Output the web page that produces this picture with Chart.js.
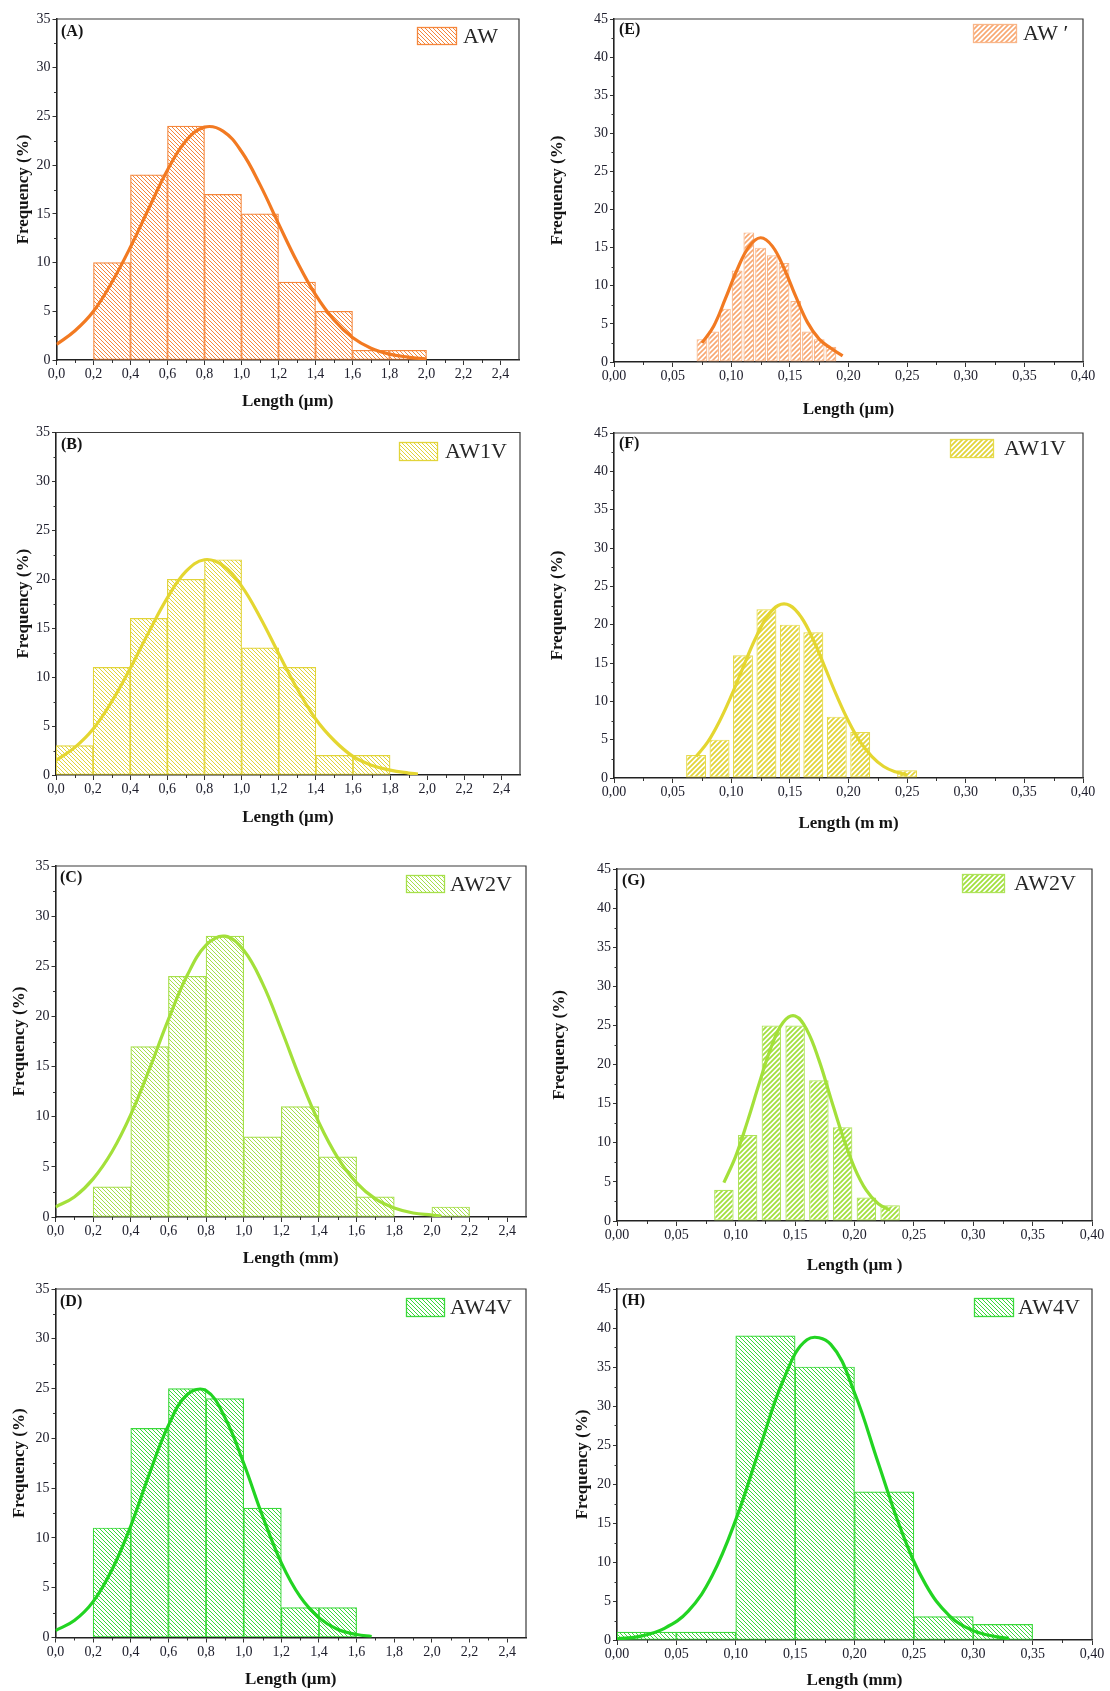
<!DOCTYPE html>
<html>
<head>
<meta charset="utf-8">
<script src="https://cdn.jsdelivr.net/npm/chart.js@4.4.1/dist/chart.umd.min.js"></script>
<style>
  html, body { margin: 0; padding: 0; background: #ffffff; }
  #page { position: relative; width: 1110px; height: 1691px; overflow: hidden; background: #ffffff; }
  #page canvas { position: absolute; }
</style>
</head>
<body>
<div id="page"></div>
<script>
// ---- data (bin centres, frequencies %, fitted curve) ----
const A_CENTERS = [0.3, 0.5, 0.7, 0.9, 1.1, 1.3, 1.5, 1.7, 1.9];
const A_FREQ = [10, 19, 24, 17, 15, 8, 5, 1, 1];
const A_FIT_X = [0, 0.1, 0.2, 0.3, 0.4, 0.5, 0.6, 0.7, 0.8, 0.9, 1.0, 1.1, 1.2, 1.3, 1.4, 1.5, 1.6, 1.7, 1.8, 1.9, 2.0];
const A_FIT_Y = [1.6, 3.0, 5.0, 8.0, 11.6, 15.6, 19.5, 22.5, 23.9, 23.5, 21.4, 18.0, 14.0, 10.1, 6.7, 4.1, 2.3, 1.2, 0.6, 0.3, 0.1];

const B_CENTERS = [0.1, 0.3, 0.5, 0.7, 0.9, 1.1, 1.3, 1.5, 1.7];
const B_FREQ = [3, 11, 16, 20, 22, 13, 11, 2, 2];
const B_FIT_X = [0, 0.1, 0.2, 0.3, 0.4, 0.5, 0.6, 0.7, 0.8, 0.9, 1.0, 1.1, 1.2, 1.3, 1.4, 1.5, 1.6, 1.7, 1.8, 1.9, 1.95];
const B_FIT_Y = [1.5, 2.8, 4.7, 7.5, 10.9, 14.6, 18.1, 20.8, 22.0, 21.4, 19.3, 16.1, 12.4, 8.8, 5.7, 3.5, 1.9, 1.0, 0.5, 0.2, 0.1];

const C_CENTERS = [0.3, 0.5, 0.7, 0.9, 1.1, 1.3, 1.5, 1.7, 1.9, 2.1];
const C_FREQ = [3, 17, 24, 28, 8, 11, 6, 2, null, 1];
const C_FIT_X = [0, 0.1, 0.2, 0.3, 0.4, 0.5, 0.6, 0.7, 0.8, 0.9, 1.0, 1.1, 1.2, 1.3, 1.4, 1.5, 1.6, 1.7, 1.8, 1.9, 2.0, 2.05];
const C_FIT_Y = [1.0, 2.0, 3.8, 6.5, 10.2, 14.8, 19.7, 24.1, 27.1, 28.0, 26.6, 23.3, 18.7, 13.8, 9.4, 5.9, 3.4, 1.8, 0.9, 0.4, 0.2, 0.1];

const D_CENTERS = [0.3, 0.5, 0.7, 0.9, 1.1, 1.3, 1.5];
const D_FREQ = [11, 21, 25, 24, 13, 3, 3];
const D_FIT_X = [0, 0.1, 0.2, 0.3, 0.4, 0.5, 0.6, 0.7, 0.8, 0.9, 1.0, 1.1, 1.2, 1.3, 1.4, 1.5, 1.6, 1.68];
const D_FIT_Y = [0.7, 1.7, 3.6, 6.8, 11.2, 16.5, 21.3, 24.4, 24.8, 22.1, 17.5, 12.2, 7.5, 4.1, 2.0, 0.8, 0.3, 0.1];

const E_CENTERS = [0.075, 0.085, 0.095, 0.105, 0.115, 0.125, 0.135, 0.145, 0.155, 0.165, 0.175, 0.185];
const E_FREQ = [3, 4, 7, 12, 17, 15, 14, 13, 8, 4, 3, 2];
const E_FIT_X = [0.075, 0.085, 0.095, 0.105, 0.115, 0.125, 0.135, 0.145, 0.155, 0.165, 0.175, 0.185, 0.195];
const E_FIT_Y = [2.5, 4.7, 8.3, 12.1, 15.1, 16.3, 15.2, 12.3, 8.6, 5.2, 3.0, 1.8, 0.8];

const F_CENTERS = [0.07, 0.09, 0.11, 0.13, 0.15, 0.17, 0.19, 0.21, 0.23, 0.25];
const F_FREQ = [3, 5, 16, 22, 20, 19, 8, 6, null, 1];
const F_FIT_X = [0.07, 0.08, 0.09, 0.10, 0.11, 0.12, 0.13, 0.14, 0.15, 0.16, 0.17, 0.18, 0.19, 0.20, 0.21, 0.22, 0.23, 0.24, 0.25];
const F_FIT_Y = [2.8, 4.7, 7.4, 10.7, 14.4, 18.0, 20.9, 22.5, 22.5, 20.9, 18.0, 14.4, 10.7, 7.4, 4.7, 2.8, 1.5, 0.8, 0.4];

const G_CENTERS = [0.09, 0.11, 0.13, 0.15, 0.17, 0.19, 0.21, 0.23];
const G_FREQ = [4, 11, 25, 25, 18, 12, 3, 2];
const G_FIT_X = [0.09, 0.10, 0.11, 0.12, 0.13, 0.14, 0.15, 0.16, 0.17, 0.18, 0.19, 0.20, 0.21, 0.22, 0.23];
const G_FIT_Y = [4.9, 8.3, 12.8, 17.7, 22.3, 25.4, 26.2, 24.4, 20.6, 15.7, 10.9, 6.8, 3.9, 2.2, 1.4];

const H_CENTERS = [0.025, 0.075, 0.125, 0.175, 0.225, 0.275, 0.325];
const H_FREQ = [1, 1, 39, 35, 19, 3, 2];
const H_FIT_X = [0, 0.02, 0.04, 0.06, 0.08, 0.10, 0.12, 0.14, 0.16, 0.18, 0.20, 0.22, 0.24, 0.26, 0.28, 0.30, 0.32, 0.33];
const H_FIT_Y = [0.15, 0.5, 1.5, 3.7, 8.2, 15.4, 24.5, 33.3, 38.5, 37.9, 31.7, 22.7, 13.8, 7.1, 3.1, 1.2, 0.4, 0.2];

const SERIES_NAMES = ['AW', 'AW1V', 'AW2V', 'AW4V'];
const UM = 'Length (\u00b5m)';
const MM = 'Length (mm)';

// ---- styling ----
const FONT = "'Liberation Serif', 'Times New Roman', serif";
Chart.defaults.font.family = FONT;
Chart.defaults.color = '#20202e';

const ORANGE = { line: '#f27a22', hatch: '#f5873c', hatchLight: '#f8a872', edgeLight: '#f9b689' };
const YELLOW = { line: '#e4d631', hatch: '#e2d43a', hatchLight: '#e2d43a', edgeLight: '#e6da4c' };
const LIME = { line: '#a3e03a', hatch: '#a6e04a', hatchLight: '#a2df3e', edgeLight: '#aee35a' };
const GREEN = { line: '#22d422', hatch: '#3bd93b', hatchLight: '#3bd93b', edgeLight: '#45dc45' };

function makeHatch(color, dir, gap, width) {
  const tile = document.createElement('canvas');
  tile.width = gap;
  tile.height = gap;
  const g = tile.getContext('2d');
  g.fillStyle = '#ffffff';
  g.fillRect(0, 0, gap, gap);
  g.strokeStyle = color;
  g.lineWidth = width;
  g.beginPath();
  if (dir === 'back') {
    g.moveTo(-1, -1); g.lineTo(gap + 1, gap + 1);
    g.moveTo(-1, gap - 1); g.lineTo(1, gap + 1);
    g.moveTo(gap - 1, -1); g.lineTo(gap + 1, 1);
  } else {
    g.moveTo(-1, gap + 1); g.lineTo(gap + 1, -1);
    g.moveTo(-1, 1); g.lineTo(1, -1);
    g.moveTo(gap - 1, gap + 1); g.lineTo(gap + 1, gap - 1);
  }
  g.stroke();
  return g.createPattern(tile, 'repeat');
}

// geometry of each panel on the page (plot box l,t,r,b; titles; legend box)
const PANELS = [
  { tag: '(A)', name: SERIES_NAMES[0], suffix: '', centers: A_CENTERS, freq: A_FREQ, fitX: A_FIT_X, fitY: A_FIT_Y,
    wide: true, xTitle: UM, col: 0, plot: [56.5, 19, 519, 360], yTitleX: 24, xTitleY: 402,
    letter: [61, 32], legend: [417, 27, 40, 18], legendTextX: 463,
    edge: ORANGE.hatch, hatch: makeHatch(ORANGE.hatch, 'back', 4, 1), line: ORANGE.line, barPct: 1 },
  { tag: '(B)', name: SERIES_NAMES[1], suffix: '', centers: B_CENTERS, freq: B_FREQ, fitX: B_FIT_X, fitY: B_FIT_Y,
    wide: true, xTitle: UM, col: 0, plot: [56, 432.5, 520, 775], yTitleX: 24, xTitleY: 818,
    letter: [61, 445], legend: [399, 442, 39, 19], legendTextX: 445,
    edge: YELLOW.hatch, hatch: makeHatch(YELLOW.hatch, 'back', 4, 1), line: YELLOW.line, barPct: 1 },
  { tag: '(C)', name: SERIES_NAMES[2], suffix: '', centers: C_CENTERS, freq: C_FREQ, fitX: C_FIT_X, fitY: C_FIT_Y,
    wide: true, xTitle: MM, col: 0, plot: [55.5, 866, 526, 1217], yTitleX: 20, xTitleY: 1259,
    letter: [60, 878], legend: [406, 875, 39, 18], legendTextX: 450,
    edge: LIME.hatch, hatch: makeHatch(LIME.hatch, 'back', 4, 1), line: LIME.line, barPct: 1 },
  { tag: '(D)', name: SERIES_NAMES[3], suffix: '', centers: D_CENTERS, freq: D_FREQ, fitX: D_FIT_X, fitY: D_FIT_Y,
    wide: true, xTitle: UM, col: 0, plot: [55.5, 1289, 526, 1637.5], yTitleX: 20, xTitleY: 1680,
    letter: [60, 1302], legend: [406, 1298, 39, 19], legendTextX: 450,
    edge: GREEN.hatch, hatch: makeHatch(GREEN.hatch, 'back', 4, 1), line: GREEN.line, barPct: 1 },
  { tag: '(E)', name: SERIES_NAMES[0], suffix: ' \u2032', centers: E_CENTERS, freq: E_FREQ, fitX: E_FIT_X, fitY: E_FIT_Y,
    wide: false, xTitle: UM, col: 1, plot: [614, 19, 1083, 362], yTitleX: 558, xTitleY: 410,
    letter: [619, 30], legend: [973, 24, 44, 19], legendTextX: 1023,
    edge: ORANGE.edgeLight, hatch: makeHatch(ORANGE.hatchLight, 'fwd', 5, 1.6), line: ORANGE.line, barPct: 0.92 },
  { tag: '(F)', name: SERIES_NAMES[1], suffix: '', centers: F_CENTERS, freq: F_FREQ, fitX: F_FIT_X, fitY: F_FIT_Y,
    wide: false, xTitle: 'Length (m m)', col: 1, plot: [614, 433, 1083, 778], yTitleX: 558, xTitleY: 824,
    letter: [619, 444], legend: [950, 439, 44, 19], legendTextX: 1004,
    edge: YELLOW.edgeLight, hatch: makeHatch(YELLOW.hatchLight, 'fwd', 5, 1.8), line: YELLOW.line, barPct: 0.85 },
  { tag: '(G)', name: SERIES_NAMES[2], suffix: '', centers: G_CENTERS, freq: G_FREQ, fitX: G_FIT_X, fitY: G_FIT_Y,
    wide: false, xTitle: 'Length (\u00b5m )', col: 1, plot: [617, 869, 1092, 1221], yTitleX: 560, xTitleY: 1266,
    letter: [622, 881], legend: [962, 874, 43, 19], legendTextX: 1014,
    edge: LIME.edgeLight, hatch: makeHatch(LIME.hatchLight, 'fwd', 5, 1.8), line: LIME.line, barPct: 0.82 },
  { tag: '(H)', name: SERIES_NAMES[3], suffix: '', centers: H_CENTERS, freq: H_FREQ, fitX: H_FIT_X, fitY: H_FIT_Y,
    wide: false, xTitle: MM, col: 1, plot: [617, 1289, 1092, 1640], yTitleX: 583, xTitleY: 1681,
    letter: [622, 1301], legend: [974, 1298, 40, 19], legendTextX: 1018,
    edge: GREEN.hatch, hatch: makeHatch(GREEN.hatch, 'back', 4, 1), line: GREEN.line, barPct: 1 },
];

const COLUMNS = [[0, 545], [540, 1110]];
const TITLE_SIZE = 17;
const TITLE_LH = TITLE_SIZE * 1.2;

// minor ticks, top/right frame, panel letter and legend
const decorations = {
  id: 'decorations',
  afterDraw(chart, args, opts) {
    const { ctx, chartArea: a, scales: { x, y } } = chart;
    const p = opts.panel;
    const ox = opts.origin[0];
    const oy = opts.origin[1];
    ctx.save();
    ctx.strokeStyle = '#333333';
    ctx.lineWidth = 1;
    ctx.beginPath();
    const xMinor = p.wide ? 0.1 : 0.025;
    const xStep = p.wide ? 0.2 : 0.05;
    for (let v = xMinor; v < x.max - 1e-6; v += xStep) {
      const px = Math.round(x.getPixelForValue(v)) + 0.5;
      ctx.moveTo(px, a.bottom);
      ctx.lineTo(px, a.bottom + 3);
    }
    for (let v = 2.5; v < y.max; v += 5) {
      const py = Math.round(y.getPixelForValue(v)) + 0.5;
      ctx.moveTo(a.left - 2.5, py);
      ctx.lineTo(a.left, py);
    }
    ctx.stroke();

    ctx.strokeStyle = '#3a3a3a';
    ctx.lineWidth = 1.2;
    ctx.beginPath();
    ctx.moveTo(a.left, a.top);
    ctx.lineTo(a.right, a.top);
    ctx.lineTo(a.right, a.bottom);
    ctx.stroke();

    ctx.fillStyle = '#141414';
    ctx.font = `bold 16px ${FONT}`;
    ctx.textBaseline = 'middle';
    ctx.textAlign = 'left';
    ctx.fillText(p.tag, p.letter[0] - ox, p.letter[1] - oy);

    const [bx, by, bw, bh] = p.legend;
    ctx.fillStyle = p.hatch;
    ctx.fillRect(bx - ox, by - oy, bw, bh);
    ctx.strokeStyle = p.edge;
    ctx.lineWidth = 1.3;
    ctx.strokeRect(bx - ox + 0.5, by - oy + 0.5, bw - 1, bh - 1);
    ctx.fillStyle = '#262626';
    ctx.font = `22px ${FONT}`;
    ctx.fillText(p.name + p.suffix, p.legendTextX - ox, by - oy + bh / 2 + 1);
    ctx.restore();
  },
};

function tickText(wide) {
  return (value) => Number(value).toFixed(wide ? 1 : 2).replace('.', ',');
}

function buildPanel(p) {
  const [cl, cr] = COLUMNS[p.col];
  const [l, t, r, b] = p.plot;
  const ct = Math.round(t - 16);
  const cb = Math.min(1691, Math.round(p.xTitleY + 14));
  const canvas = document.createElement('canvas');
  canvas.width = cr - cl;
  canvas.height = cb - ct;
  canvas.style.left = cl + 'px';
  canvas.style.top = ct + 'px';
  document.getElementById('page').appendChild(canvas);

  const yWidth = l - cl;
  const xHeight = cb - b;

  return new Chart(canvas, {
    type: 'bar',
    data: {
      datasets: [
        {
          type: 'line',
          label: p.name + ' fit',
          data: p.fitX.map((xv, i) => ({ x: xv, y: p.fitY[i] })),
          borderColor: p.line,
          borderWidth: 3.2,
          pointRadius: 0,
          tension: 0.4,
          fill: false,
          order: 0,
        },
        {
          type: 'bar',
          label: p.name,
          data: p.centers.map((xv, i) => ({ x: xv, y: p.freq[i] })),
          backgroundColor: p.hatch,
          borderColor: p.edge,
          borderWidth: 1.2,
          borderSkipped: false,
          barPercentage: p.barPct,
          categoryPercentage: 1,
          order: 1,
        },
      ],
    },
    options: {
      responsive: false,
      animation: false,
      events: [],
      layout: { padding: { top: t - ct, right: cr - r, left: 0, bottom: 0 } },
      plugins: {
        legend: { display: false },
        tooltip: { enabled: false },
        title: { display: false },
        decorations: { panel: p, origin: [cl, ct] },
      },
      scales: {
        x: {
          type: 'linear',
          min: 0,
          max: p.wide ? 2.5 : 0.4,
          offset: false,
          grid: { display: true, offset: false, drawOnChartArea: false, drawTicks: true, tickLength: 5, tickColor: '#333333', tickWidth: 1 },
          border: { display: true, color: '#222222', width: 1.6 },
          ticks: {
            stepSize: p.wide ? 0.2 : 0.05,
            includeBounds: false,
            autoSkip: false,
            maxRotation: 0,
            padding: 1,
            font: { size: 14 },
            color: '#20202e',
            callback: tickText(p.wide),
          },
          title: {
            display: true,
            text: p.xTitle,
            font: { size: TITLE_SIZE, weight: 'bold' },
            color: '#141414',
            padding: { top: 0, bottom: cb - p.xTitleY - TITLE_LH / 2 },
          },
          afterFit(scale) { scale.height = xHeight; },
        },
        y: {
          min: 0,
          max: p.wide ? 35 : 45,
          grid: { display: true, drawOnChartArea: false, drawTicks: true, tickLength: 4, tickColor: '#333333', tickWidth: 1 },
          border: { display: true, color: '#222222', width: 1.6 },
          ticks: { stepSize: 5, padding: 2, font: { size: 14 }, color: '#20202e' },
          title: {
            display: true,
            text: 'Frequency (%)',
            font: { size: TITLE_SIZE, weight: 'bold' },
            color: '#141414',
            padding: { top: p.yTitleX - cl - TITLE_LH / 2, bottom: 0 },
          },
          afterFit(scale) { scale.width = yWidth; },
        },
      },
    },
    plugins: [decorations],
  });
}

PANELS.forEach(buildPanel);
</script>
</body>
</html>
